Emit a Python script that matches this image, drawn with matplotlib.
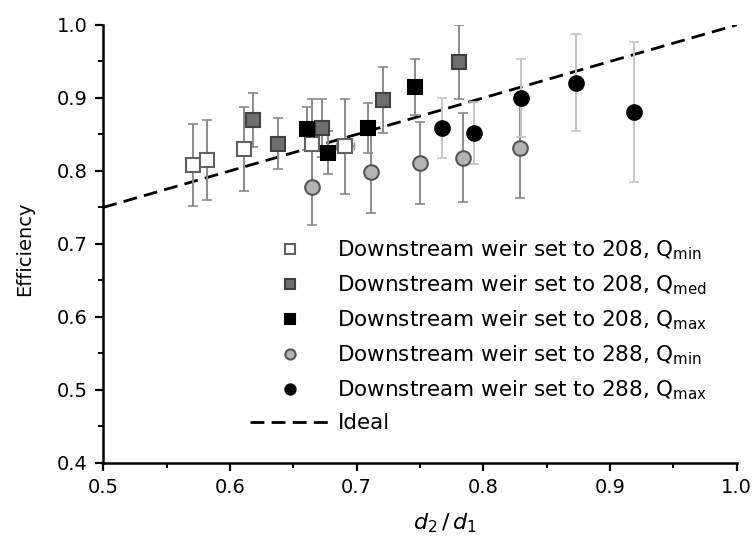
import numpy as np
import matplotlib
matplotlib.use('Agg')
import matplotlib.pyplot as plt
from matplotlib.ticker import MultipleLocator

# d2/d1 , efficiency , error
x_208_min = [0.571, 0.582, 0.611, 0.665, 0.691]
y_208_min = [0.808, 0.815, 0.830, 0.837, 0.834]
e_208_min = [0.056, 0.055, 0.058, 0.062, 0.065]
xe_208_min = [0.0, 0.0, 0.0, 0.0, 0.007]

x_208_med = [0.618, 0.638, 0.673, 0.721, 0.781]
y_208_med = [0.870, 0.837, 0.859, 0.897, 0.949]
e_208_med = [0.037, 0.035, 0.040, 0.045, 0.051]

x_208_max = [0.661, 0.677, 0.709, 0.746]
y_208_max = [0.858, 0.825, 0.859, 0.915]
e_208_max = [0.030, 0.029, 0.034, 0.039]

x_288_min = [0.665, 0.711, 0.750, 0.784, 0.829]
y_288_min = [0.778, 0.798, 0.811, 0.818, 0.832]
e_288_min = [0.052, 0.055, 0.056, 0.061, 0.069]

x_288_max = [0.767, 0.793, 0.830, 0.873, 0.919]
y_288_max = [0.859, 0.852, 0.900, 0.921, 0.881]
e_288_max = [0.041, 0.042, 0.053, 0.067, 0.096]

ideal_x = [0.5, 1.0]
ideal_y = [0.75, 1.0]

labels = ['Downstream weir set to 208, Q$_{\\mathrm{min}}$',
          'Downstream weir set to 208, Q$_{\\mathrm{med}}$',
          'Downstream weir set to 208, Q$_{\\mathrm{max}}$',
          'Downstream weir set to 288, Q$_{\\mathrm{min}}$',
          'Downstream weir set to 288, Q$_{\\mathrm{max}}$',
          'Ideal']

plt.rcParams['font.family'] = 'DejaVu Sans'

fig = plt.figure(figsize=(7.54, 5.42), dpi=100)
ax = fig.add_axes([0.137, 0.146, 0.840, 0.808])

ideal, = ax.plot(ideal_x, ideal_y, color='black', lw=2.0, dashes=(5, 2.6), zorder=1)

series = [
    (x_208_min, y_208_min, e_208_min, 's', 'white', '#606060', '#8a8a8a'),
    (x_208_med, y_208_med, e_208_med, 's', '#6e6e6e', '#404040', '#8a8a8a'),
    (x_208_max, y_208_max, e_208_max, 's', 'black', 'black', '#8a8a8a'),
    (x_288_min, y_288_min, e_288_min, 'o', '#b4b4b4', '#555555', '#8a8a8a'),
    (x_288_max, y_288_max, e_288_max, 'o', 'black', 'black', '#c4c4c4'),
]

handles = []
for i, (xs, ys, es, mk, fc, ec, bc) in enumerate(series):
    ax.errorbar(xs, ys, yerr=es, fmt='none', ecolor=bc, elinewidth=1.4,
                capsize=3.5, capthick=1.2, zorder=2)
    h, = ax.plot(xs, ys, mk, ms=10.5, mfc=fc, mec=ec, mew=1.5, zorder=3, label=labels[i])
    handles.append(h)

# small horizontal bar on one open square
ax.errorbar(x_208_min, y_208_min, xerr=xe_208_min, fmt='none', ecolor='#8a8a8a',
            elinewidth=1.2, capsize=3, zorder=2)

ideal.set_label(labels[5])
handles.append(ideal)

ax.set_xlim(0.5, 1.0)
ax.set_ylim(0.4, 1.0)
ax.xaxis.set_major_locator(MultipleLocator(0.1))
ax.xaxis.set_minor_locator(MultipleLocator(0.05))
ax.yaxis.set_major_locator(MultipleLocator(0.1))
ax.yaxis.set_minor_locator(MultipleLocator(0.05))
ax.xaxis.set_major_formatter(matplotlib.ticker.FormatStrFormatter('%.1f'))
ax.yaxis.set_major_formatter(matplotlib.ticker.FormatStrFormatter('%.1f'))

ax.spines['top'].set_visible(False)
ax.spines['right'].set_visible(False)
for s in ['left', 'bottom']:
    ax.spines[s].set_linewidth(1.8)
ax.tick_params(which='major', direction='out', length=6, width=1.6, labelsize=14, pad=5)
ax.tick_params(which='minor', direction='out', length=3.5, width=1.4)

ax.set_ylabel('Efficiency', fontsize=14)
ax.yaxis.set_label_coords(-0.11, 0.49)
ax.set_xlabel('$d_2\\,/\\,d_1$', fontsize=16)
ax.xaxis.set_label_coords(0.54, -0.11)

leg = ax.legend(handles=handles, loc='upper left', bbox_to_anchor=(0.232, 0.513),
                frameon=False, fontsize=15.5, handlelength=3.7, handletextpad=0.35,
                labelspacing=0.53, borderpad=0, borderaxespad=0, markerscale=0.7)

plt.savefig('out.png', dpi=100)
